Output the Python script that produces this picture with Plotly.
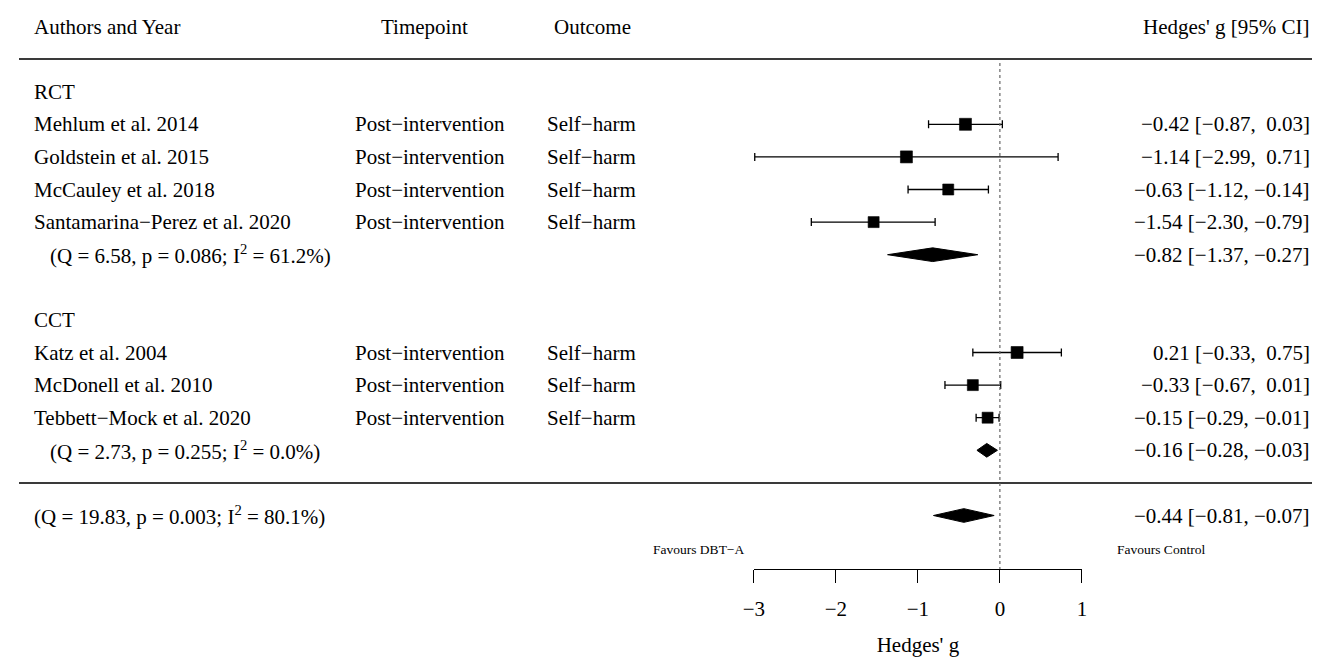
import plotly.graph_objects as go

# ---------------- data ----------------
rct_studies = ["Mehlum et al. 2014", "Goldstein et al. 2015", "McCauley et al. 2018",
               "Santamarina\u2212Perez et al. 2020"]
rct_est = [-0.42, -1.14, -0.63, -1.54]
rct_lo = [-0.87, -2.99, -1.12, -2.30]
rct_hi = [0.03, 0.71, -0.14, -0.79]
rct_pooled = [-0.82, -1.37, -0.27]
rct_het = [6.58, "0.086", 61.2]

cct_studies = ["Katz et al. 2004", "McDonell et al. 2010", "Tebbett\u2212Mock et al. 2020"]
cct_est = [0.21, -0.33, -0.15]
cct_lo = [-0.33, -0.67, -0.29]
cct_hi = [0.75, 0.01, -0.01]
cct_pooled = [-0.16, -0.28, -0.03]
cct_het = [2.73, "0.255", 0.0]

overall_pooled = [-0.44, -0.81, -0.07]
overall_het = [19.83, "0.003", 80.1]

timepoint = "Post\u2212intervention"
outcome = "Self\u2212harm"
axis_ticks = [-3, -2, -1, 0, 1]

# ---------------- layout constants (screen pixels) ----------------
OFF = 8                       # default body margin of the html page
W, H = 1320 - OFF, 657 - OFF  # figure size
ROW_PX = 32.6
TOP_PX = 26.5
FONT = "Liberation Serif"
FS = 21
AX_LEFT, AX_RIGHT = 752, 1084   # screen pixel span of [-3, 1]
AXIS_PX = 569

rct_rows = [3, 4, 5, 6]
rct_pool_row = 7
cct_rows = [10, 11, 12]
cct_pool_row = 13
sep_row = 14
overall_row = 15

sq_sizes_rct = [12, 12, 11, 11]
sq_sizes_cct = [12, 11, 11]


def num(v):
    return f"{v:.2f}".replace("-", "\u2212")


def pad(v):
    return ("\u00a0" if v >= 0 else "") + num(v)


def ci_text(e, l, h):
    return f"{num(e)} [{pad(l)}, {pad(h)}]"


def het_text(h):
    return f"(Q = {h[0]:.2f}, p = {h[1]}; I<sup>2</sup> = {h[2]:.1f}%)"


def row_of(px):
    return (px - TOP_PX) / ROW_PX


fig = go.Figure()

# invisible trace to activate the text axes
fig.add_trace(go.Scatter(x=[OFF, 1320], y=[0, 0], mode="markers", marker=dict(opacity=0),
                         hoverinfo="skip", showlegend=False, xaxis="x", yaxis="y"))

# study squares with CIs
for rows, est, lo, hi, sizes in [(rct_rows, rct_est, rct_lo, rct_hi, sq_sizes_rct),
                                 (cct_rows, cct_est, cct_lo, cct_hi, sq_sizes_cct)]:
    fig.add_trace(go.Scatter(
        x=est, y=rows, mode="markers", xaxis="x2", yaxis="y",
        marker=dict(symbol="square", size=sizes, color="black", opacity=1,
                    line=dict(width=0.6, color="black")),
        error_x=dict(type="data", symmetric=False,
                     array=[h - e for e, h in zip(est, hi)],
                     arrayminus=[e - l for e, l in zip(est, lo)],
                     color="black", thickness=1.3, width=4),
        cliponaxis=False, showlegend=False, hoverinfo="skip"))

# diamonds
for row, (e, l, h) in [(rct_pool_row, rct_pooled), (cct_pool_row, cct_pooled),
                       (overall_row, overall_pooled)]:
    hh = 0.21
    fig.add_trace(go.Scatter(
        x=[l, e, h, e, l], y=[row, row - hh, row, row + hh, row], mode="lines",
        fill="toself", fillcolor="black", line=dict(color="black", width=1),
        xaxis="x2", yaxis="y", showlegend=False, hoverinfo="skip", cliponaxis=False))

# ---------------- annotations ----------------
ann = []


def txt(x, y, s, anchor="left", size=FS):
    ann.append(dict(x=x, y=y, xref="x", yref="y", text=s, showarrow=False,
                    xanchor=anchor, yanchor="middle", borderpad=0,
                    font=dict(family=FONT, size=size, color="black")))


X_AUTH, X_IND, X_TP, X_OUT, X_RIGHT = 22, 38, 347, 541, 1316

# header
txt(X_AUTH, 0, "Authors and Year")
txt(419, 0, "Timepoint", "center")
txt(589, 0, "Outcome", "center")
txt(X_RIGHT, 0, "Hedges' g [95% CI]", "right")

txt(X_AUTH, 2, "RCT")
for r, s, e, l, h in zip(rct_rows, rct_studies, rct_est, rct_lo, rct_hi):
    txt(X_AUTH, r, s)
    txt(X_TP, r, timepoint)
    txt(X_OUT, r, outcome)
    txt(X_RIGHT, r, ci_text(e, l, h), "right")
txt(X_IND, rct_pool_row, het_text(rct_het))
txt(X_RIGHT, rct_pool_row, ci_text(*rct_pooled), "right")

txt(X_AUTH, 9, "CCT")
for r, s, e, l, h in zip(cct_rows, cct_studies, cct_est, cct_lo, cct_hi):
    txt(X_AUTH, r, s)
    txt(X_TP, r, timepoint)
    txt(X_OUT, r, outcome)
    txt(X_RIGHT, r, ci_text(e, l, h), "right")
txt(X_IND, cct_pool_row, het_text(cct_het))
txt(X_RIGHT, cct_pool_row, ci_text(*cct_pooled), "right")

txt(X_AUTH, overall_row, het_text(overall_het))
txt(X_RIGHT, overall_row, ci_text(*overall_pooled), "right")

fav_row = row_of(549)
txt(696, fav_row, "Favours DBT\u2212A", "center", 13.5)
txt(1164, fav_row, "Favours Control", "center", 13.5)

# ---------------- shapes ----------------
axis_row = row_of(AXIS_PX)
shapes = [
    dict(type="line", xref="x", yref="y", x0=7, x1=1320, y0=1, y1=1,
         line=dict(color="#3a3a3a", width=2)),
    dict(type="line", xref="x", yref="y", x0=OFF, x1=1320, y0=sep_row, y1=sep_row,
         line=dict(color="#3a3a3a", width=2)),
    dict(type="line", xref="x2", yref="y", x0=0, x1=0, y0=1.12, y1=axis_row,
         line=dict(color="#666666", width=1.2, dash="dot")),
]

fig.update_layout(
    width=W, height=H, autosize=False,
    margin=dict(l=0, r=0, t=0, b=0),
    paper_bgcolor="white", plot_bgcolor="white",
    showlegend=False,
    annotations=ann, shapes=shapes,
    xaxis=dict(range=[OFF, 1320], visible=False, domain=[0, 1], fixedrange=True),
    yaxis=dict(range=[row_of(657), row_of(OFF)], visible=False,
               domain=[0, 1], fixedrange=True),
    xaxis2=dict(range=[-3, 1], domain=[(AX_LEFT - OFF) / W, (AX_RIGHT - OFF) / W],
                anchor="free", position=(657 - AXIS_PX) / H,
                showline=True, linecolor="black", linewidth=1.3,
                tickmode="array", tickvals=axis_ticks,
                ticks="outside", ticklen=13, tickwidth=1.3, tickcolor="black",
                ticklabelstandoff=8,
                tickfont=dict(family=FONT, size=FS, color="black"),
                showgrid=False, zeroline=False, fixedrange=True,
                title=dict(text="Hedges' g", font=dict(family=FONT, size=FS, color="black"),
                           standoff=16)),
    font=dict(family=FONT, color="black"),
)

fig.write_html("out.html")
